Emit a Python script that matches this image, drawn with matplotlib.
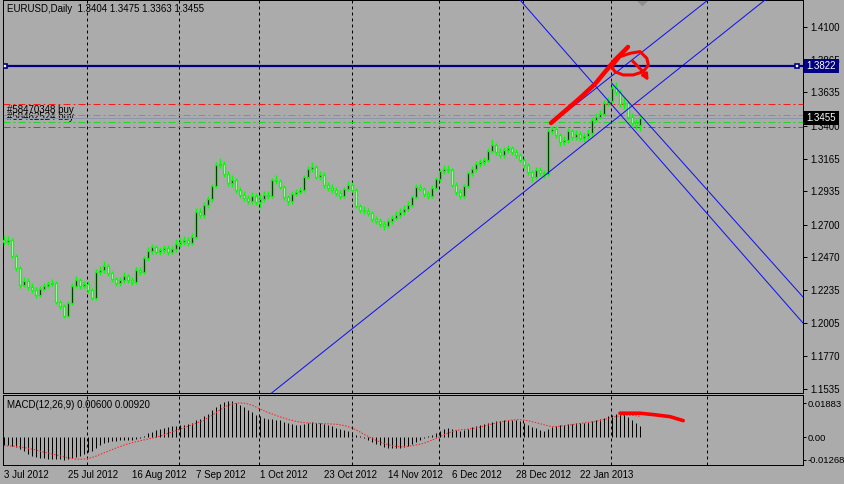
import numpy as np
import matplotlib.pyplot as plt

plt.rcParams['font.family'] = ['Liberation Sans', 'DejaVu Sans']

# EURUSD daily bars (3 Jul 2012 .. mid Feb 2013)
first_open = 1.2592
closes = [1.2578, 1.2592, 1.2479, 1.2394, 1.2274, 1.2302, 1.2260, 1.2239, 1.2203, 1.2246,
          1.2267, 1.2281, 1.2288, 1.2154, 1.2126, 1.2055, 1.2147, 1.2267, 1.2309, 1.2267,
          1.2281, 1.2239, 1.2182, 1.2366, 1.2380, 1.2408, 1.2359, 1.2316, 1.2288, 1.2309,
          1.2338, 1.2309, 1.2295, 1.2380, 1.2366, 1.2465, 1.2514, 1.2543, 1.2507, 1.2521,
          1.2536, 1.2507, 1.2529, 1.2564, 1.2578, 1.2592, 1.2571, 1.2613, 1.2790, 1.2769,
          1.2840, 1.2882, 1.2974, 1.3122, 1.3130, 1.3059, 1.2995, 1.3016, 1.2946, 1.2910,
          1.2889, 1.2868, 1.2903, 1.2861, 1.2882, 1.2910, 1.2903, 1.3016, 1.3009, 1.2967,
          1.2896, 1.2868, 1.2917, 1.2932, 1.2946, 1.3038, 1.3094, 1.3108, 1.3038, 1.3052,
          1.2981, 1.2960, 1.2946, 1.2924, 1.2903, 1.2953, 1.2981, 1.2946, 1.2833, 1.2804,
          1.2797, 1.2783, 1.2741, 1.2727, 1.2705, 1.2691, 1.2727, 1.2748, 1.2769, 1.2790,
          1.2811, 1.2840, 1.2896, 1.2967, 1.2953, 1.2917, 1.2903, 1.2960, 1.3023, 1.3080,
          1.3094, 1.3087, 1.2981, 1.2932, 1.2903, 1.2974, 1.3066, 1.3094, 1.3130, 1.3144,
          1.3158, 1.3221, 1.3264, 1.3214, 1.3193, 1.3228, 1.3243, 1.3214, 1.3193, 1.3158,
          1.3122, 1.3073, 1.3038, 1.3087, 1.3066, 1.3059, 1.3363, 1.3377, 1.3335, 1.3285,
          1.3299, 1.3363, 1.3320, 1.3342, 1.3313, 1.3327, 1.3349, 1.3441, 1.3462, 1.3483,
          1.3561, 1.3575, 1.3667, 1.3639, 1.3554, 1.3561, 1.3462, 1.3420, 1.3404, 1.3455]
highs = [1.2630, 1.2620, 1.2605, 1.2490, 1.2405, 1.2330, 1.2320, 1.2285, 1.2260, 1.2270,
         1.2290, 1.2305, 1.2315, 1.2300, 1.2170, 1.2140, 1.2160, 1.2290, 1.2340, 1.2320,
         1.2300, 1.2300, 1.2255, 1.2390, 1.2405, 1.2440, 1.2425, 1.2375, 1.2330, 1.2330,
         1.2365, 1.2355, 1.2330, 1.2400, 1.2400, 1.2480, 1.2540, 1.2565, 1.2560, 1.2545,
         1.2560, 1.2555, 1.2550, 1.2600, 1.2605, 1.2620, 1.2610, 1.2640, 1.2815, 1.2815,
         1.2860, 1.2900, 1.2990, 1.3140, 1.3170, 1.3150, 1.3080, 1.3050, 1.3030, 1.2965,
         1.2935, 1.2910, 1.2930, 1.2925, 1.2915, 1.2940, 1.2935, 1.3030, 1.3050, 1.3025,
         1.2980, 1.2910, 1.2935, 1.2955, 1.2970, 1.3055, 1.3115, 1.3140, 1.3125, 1.3080,
         1.3070, 1.3000, 1.2985, 1.2965, 1.2945, 1.2970, 1.3010, 1.3000, 1.2960, 1.2850,
         1.2830, 1.2820, 1.2800, 1.2765, 1.2745, 1.2725, 1.2750, 1.2770, 1.2795, 1.2815,
         1.2840, 1.2865, 1.2910, 1.2985, 1.2990, 1.2970, 1.2940, 1.2980, 1.3040, 1.3095,
         1.3125, 1.3120, 1.3100, 1.3000, 1.2950, 1.2990, 1.3080, 1.3115, 1.3150, 1.3165,
         1.3180, 1.3240, 1.3305, 1.3280, 1.3240, 1.3250, 1.3265, 1.3260, 1.3235, 1.3210,
         1.3175, 1.3135, 1.3090, 1.3110, 1.3105, 1.3090, 1.3385, 1.3400, 1.3395, 1.3350,
         1.3325, 1.3385, 1.3380, 1.3370, 1.3360, 1.3350, 1.3375, 1.3460, 1.3490, 1.3510,
         1.3580, 1.3600, 1.3690, 1.3711, 1.3660, 1.3600, 1.3575, 1.3490, 1.3445, 1.3475]
lows = [1.2560, 1.2555, 1.2465, 1.2375, 1.2255, 1.2260, 1.2240, 1.2220, 1.2185, 1.2190,
        1.2230, 1.2250, 1.2265, 1.2140, 1.2105, 1.2042, 1.2045, 1.2135, 1.2250, 1.2245,
        1.2250, 1.2215, 1.2165, 1.2170, 1.2345, 1.2360, 1.2340, 1.2295, 1.2270, 1.2270,
        1.2290, 1.2290, 1.2275, 1.2280, 1.2345, 1.2350, 1.2445, 1.2495, 1.2490, 1.2485,
        1.2500, 1.2485, 1.2490, 1.2505, 1.2545, 1.2560, 1.2550, 1.2555, 1.2600, 1.2750,
        1.2750, 1.2820, 1.2860, 1.2960, 1.3100, 1.3040, 1.2975, 1.2970, 1.2925, 1.2890,
        1.2865, 1.2845, 1.2850, 1.2840, 1.2820, 1.2860, 1.2880, 1.2890, 1.2990, 1.2950,
        1.2875, 1.2840, 1.2850, 1.2900, 1.2915, 1.2930, 1.3025, 1.3075, 1.3020, 1.3015,
        1.2960, 1.2940, 1.2925, 1.2900, 1.2880, 1.2890, 1.2935, 1.2930, 1.2815, 1.2785,
        1.2775, 1.2760, 1.2720, 1.2705, 1.2685, 1.2660, 1.2675, 1.2705, 1.2730, 1.2750,
        1.2770, 1.2795, 1.2825, 1.2880, 1.2935, 1.2895, 1.2880, 1.2890, 1.2945, 1.3005,
        1.3060, 1.3065, 1.2965, 1.2910, 1.2880, 1.2890, 1.2960, 1.3045, 1.3075, 1.3110,
        1.3125, 1.3140, 1.3205, 1.3195, 1.3170, 1.3175, 1.3210, 1.3195, 1.3175, 1.3140,
        1.3100, 1.3050, 1.3000, 1.3020, 1.3045, 1.3030, 1.3045, 1.3340, 1.3315, 1.3260,
        1.3265, 1.3280, 1.3300, 1.3300, 1.3290, 1.3285, 1.3305, 1.3330, 1.3425, 1.3445,
        1.3470, 1.3540, 1.3560, 1.3620, 1.3535, 1.3520, 1.3440, 1.3400, 1.3380, 1.3363]

# MACD(12,26,9): main line drawn as histogram, signal as dotted line
macd_main = [-0.0042, -0.0044, -0.0048, -0.0056, -0.0068, -0.0080, -0.0095, -0.0105, -0.0112, -0.0116,
             -0.0118, -0.0119, -0.0119, -0.0121, -0.0123, -0.0125, -0.0122, -0.0116, -0.0110, -0.0104,
             -0.0095, -0.0085, -0.0075, -0.0060, -0.0046, -0.0034, -0.0026, -0.0022, -0.0020, -0.0017,
             -0.0015, -0.0015, -0.0014, -0.0010, -0.0004, 0.0004, 0.0020, 0.0030, 0.0038, 0.0044,
             0.0052, 0.0058, 0.0060, 0.0062, 0.0064, 0.0068, 0.0074, 0.0080, 0.0092, 0.0100,
             0.0115, 0.0130, 0.0148, 0.0168, 0.0185, 0.0196, 0.0199, 0.0198, 0.0190, 0.0180,
             0.0168, 0.0152, 0.0138, 0.0124, 0.0114, 0.0106, 0.0100, 0.0098, 0.0096, 0.0092,
             0.0085, 0.0078, 0.0072, 0.0068, 0.0068, 0.0072, 0.0078, 0.0082, 0.0080, 0.0076,
             0.0070, 0.0066, 0.0060, 0.0052, 0.0044, 0.0040, 0.0034, 0.0026, 0.0013, 0.0004,
             -0.0004, -0.0015, -0.0026, -0.0036, -0.0046, -0.0054, -0.0060, -0.0062, -0.0062, -0.0060,
             -0.0056, -0.0048, -0.0038, -0.0026, -0.0018, -0.0004, 0.0006, 0.0014, 0.0024, 0.0036,
             0.0046, 0.0048, 0.0042, 0.0038, 0.0036, 0.0040, 0.0046, 0.0054, 0.0062, 0.0066,
             0.0070, 0.0076, 0.0084, 0.0088, 0.0090, 0.0094, 0.0096, 0.0096, 0.0094, 0.0088,
             0.0080, 0.0068, 0.0056, 0.0048, 0.0040, 0.0034, 0.0046, 0.0058, 0.0062, 0.0064,
             0.0068, 0.0072, 0.0074, 0.0076, 0.0078, 0.0080, 0.0082, 0.0088, 0.0094, 0.0100,
             0.0108, 0.0114, 0.0124, 0.0130, 0.0130, 0.0126, 0.0112, 0.0094, 0.0076, 0.0060]
macd_signal = [-0.0048, -0.0049, -0.0050, -0.0052, -0.0055, -0.0058, -0.0062, -0.0067, -0.0072, -0.0078,
               -0.0084, -0.0089, -0.0094, -0.0099, -0.0104, -0.0110, -0.0115, -0.0119, -0.0122, -0.0123,
               -0.0122, -0.0119, -0.0113, -0.0106, -0.0097, -0.0088, -0.0079, -0.0070, -0.0061, -0.0053,
               -0.0045, -0.0038, -0.0032, -0.0026, -0.0021, -0.0016, -0.0011, -0.0006, -0.0001, 0.0005,
               0.0012, 0.0020, 0.0028, 0.0036, 0.0044, 0.0052, 0.0060, 0.0068, 0.0076, 0.0084,
               0.0094, 0.0106, 0.0120, 0.0135, 0.0150, 0.0164, 0.0175, 0.0183, 0.0187, 0.0189,
               0.0188, 0.0183, 0.0176, 0.0167, 0.0156, 0.0146, 0.0136, 0.0128, 0.0120, 0.0112,
               0.0105, 0.0098, 0.0092, 0.0087, 0.0083, 0.0080, 0.0078, 0.0077, 0.0076, 0.0075,
               0.0074, 0.0073, 0.0072, 0.0071, 0.0068, 0.0064, 0.0058, 0.0050, 0.0040, 0.0028,
               0.0016, 0.0004, -0.0008, -0.0018, -0.0027, -0.0035, -0.0042, -0.0048, -0.0052, -0.0054,
               -0.0054, -0.0052, -0.0048, -0.0044, -0.0040, -0.0034, -0.0026, -0.0017, -0.0008, 0.0002,
               0.0012, 0.0022, 0.0030, 0.0036, 0.0040, 0.0042, 0.0044, 0.0047, 0.0050, 0.0055,
               0.0060, 0.0066, 0.0072, 0.0078, 0.0083, 0.0087, 0.0091, 0.0094, 0.0096, 0.0096,
               0.0094, 0.0090, 0.0085, 0.0080, 0.0074, 0.0068, 0.0062, 0.0058, 0.0058, 0.0060,
               0.0063, 0.0066, 0.0069, 0.0072, 0.0075, 0.0078, 0.0081, 0.0084, 0.0088, 0.0092,
               0.0097, 0.0102, 0.0108, 0.0114, 0.0118, 0.0120, 0.0121, 0.0120, 0.0118, 0.0115]

date_labels = ['3 Jul 2012', '25 Jul 2012', '16 Aug 2012', '7 Sep 2012', '1 Oct 2012',
               '23 Oct 2012', '14 Nov 2012', '6 Dec 2012', '28 Dec 2012', '22 Jan 2013']
date_bars = [0, 16, 32, 48, 64, 80, 96, 112, 128, 144]
grid_bars = [20.75, 43.75, 63.75, 87, 108.75, 129.75, 151.75, 175.75]

price_ticks = [1.4100, 1.3865, 1.3635, 1.3400, 1.3165, 1.2935, 1.2700, 1.2470,
               1.2235, 1.2005, 1.1770, 1.1535]
macd_ticks = [0.01883, 0.0, -0.01268]
macd_tick_labels = ['0.01883', '0.00', '-0.01268']

# objects on the chart (bar index, price)
hline_price = 1.3822
bid_price = 1.3455
order_red = [1.3554, 1.3391]
order_green = [1.3476, 1.3426]
order_names = ['#58470348 buy', '#58462524 buy']
trend_up = [(67.25, 1.1518), (190.25, 1.4289)]
channel_up = [(136.9, 1.3417), (176.0, 1.4289)]
trend_down = [(129.0, 1.4289), (199.75, 1.2005)]
channel_down = [(151.9, 1.3702), (199.75, 1.2189)]

# hand drawn marks
stroke_x = [136.75, 140.25, 144.0, 147.75, 150.25, 152.75, 155.25, 156.0]
stroke_y = [1.3419, 1.3504, 1.3596, 1.3695, 1.3780, 1.3865, 1.3935, 1.3957]
loop_x = [152.3, 154.0, 156.5, 159.0, 160.7, 161.1, 159.8, 157.3, 154.8, 152.75, 151.9]
loop_y = [1.3829, 1.3888, 1.3912, 1.3924, 1.3877, 1.3829, 1.3782, 1.3759, 1.3759, 1.3782, 1.3817]
arrow_x = [157.3, 159.8, 161.5]
arrow_y = [1.3853, 1.3782, 1.3700]
macd_mark_x = [154.0, 159.0, 162.5, 166.5, 169.8]
macd_mark_y = [0.0132, 0.0132, 0.0124, 0.0113, 0.0091]

BG = '#ABABAB'
PX = 0.72  # one pixel in points
W, H = 845, 484

c = np.array(closes)
o = np.array([first_open] + closes[:-1])
hi = np.array(highs)
lo = np.array(lows)
bars = np.arange(len(c))


def frame(x0, y0, x1, y1):
    return [x0 / W, 1 - y1 / H, (x1 - x0) / W, (y1 - y0) / H]


fig = plt.figure(figsize=(W / 100, H / 100), dpi=100, facecolor=BG)
ax = fig.add_axes(frame(3, 0, 803, 393), facecolor=BG)
axm = fig.add_axes(frame(3, 395, 803, 465), facecolor=BG, sharex=ax)

for a in (ax, axm):
    for s in a.spines.values():
        s.set_color('black')
        s.set_linewidth(PX)
    for g in grid_bars:
        a.axvline(g, color='black', lw=PX, ls=(0, (3, 3)), zorder=1)

ax.set_xlim(-0.25, 199.75)
ax.set_ylim(1.1510, 1.4289)
axm.set_ylim(-0.0155, 0.0233)

# order lines and bid line
dash_dot = (0, (7, 3, 2, 3))
for p in order_red:
    ax.axhline(p, color='#ff1a1a', lw=PX, ls=dash_dot, zorder=2)
for p in order_green:
    ax.axhline(p, color='#22d622', lw=PX, ls=dash_dot, zorder=2)
ax.axhline(bid_price, color='#8a97a8', lw=PX, zorder=2)
for name, p in zip(order_names, order_green):
    ax.text(0.005, p + 0.0002, name, transform=ax.get_yaxis_transform(),
            fontsize=7, va='bottom', ha='left', zorder=1.5)

# candles
bull = c >= o
ax.vlines(bars, lo, hi, color='#00ff00', lw=1.0, zorder=3)
faces = np.where(bull, 'black', '#c4ffc4')
ax.bar(bars, np.maximum(np.abs(c - o), 0.0004), bottom=np.minimum(o, c), width=0.55,
       color=faces, edgecolor='#00ff00', linewidth=0.9, zorder=4)

# trend lines and channels
def ray(a, pts, both=False):
    (x0, y0), (x1, y1) = pts
    k = (y1 - y0) / (x1 - x0)
    xs = np.array([x0 - 300 if both else x0, x0 + 300])
    a.plot(xs, y0 + k * (xs - x0), color='#1010ee', lw=PX, zorder=5)


ray(ax, trend_up, both=True)
ray(ax, channel_up)
ray(ax, trend_down, both=True)
ray(ax, channel_down)

# horizontal line with its anchor squares
ax.axhline(hline_price, color='#000080', lw=1.6, zorder=5)
ax.plot([0.25, 198.25], [hline_price, hline_price], ls='none', marker='s', ms=3.5,
        mfc='white', mec='#000080', mew=1.2, zorder=6)

# some object sticking out at the top
ax.plot([159.5], [1.4318], marker='D', ms=9, color='#8f8f8f', zorder=2)

# hand drawing in red
ax.plot(stroke_x, stroke_y, color='#ff0000', lw=3.2, solid_capstyle='round', zorder=7)
ax.plot(loop_x, loop_y, color='#ff0000', lw=2.2, solid_capstyle='round', zorder=7)
ax.plot(arrow_x[:2], arrow_y[:2], color='#ff0000', lw=2.2, zorder=7)
ax.annotate('', xy=(arrow_x[2], arrow_y[2]), xytext=(arrow_x[1], arrow_y[1]),
            arrowprops=dict(arrowstyle='-|>', color='#ff0000', lw=2.0, mutation_scale=9),
            zorder=7)

# MACD panel
axm.vlines(bars, 0, macd_main, color='black', lw=PX, zorder=3)
axm.plot(bars, macd_signal, color='#ff2020', lw=PX, ls=(0, (1.5, 1.5)), zorder=4)
axm.plot(macd_mark_x, macd_mark_y, color='#ff0000', lw=2.6, solid_capstyle='round', zorder=5)

# texts
ax.text(0.005, 1 - 9 / 393, 'EURUSD,Daily  1.3404 1.3475 1.3363 1.3455',
        transform=ax.transAxes, fontsize=7, va='center', ha='left')
axm.text(0.005, (465 - 405) / 70, 'MACD(12,26,9) 0.00600 0.00920',
         transform=axm.transAxes, fontsize=7, va='center', ha='left')

# right price scale
ax.yaxis.tick_right()
ax.set_yticks(price_ticks)
ax.set_yticklabels(['%.4f' % t for t in price_ticks])
ax.tick_params(axis='y', direction='out', length=3, width=PX, labelsize=7, pad=2)
axm.yaxis.tick_right()
axm.set_yticks(macd_ticks)
axm.set_yticklabels(macd_tick_labels)
axm.tick_params(axis='y', direction='out', length=2, width=PX, labelsize=6.8, pad=1)

ax.tick_params(axis='x', length=0, labelbottom=False)
axm.set_xticks(date_bars)
axm.set_xticklabels(date_labels)
axm.tick_params(axis='x', length=0, labelsize=7, pad=3.5)
for lbl in axm.get_xticklabels():
    lbl.set_ha('left')

# price boxes on the scale
ax.text(1.0045, hline_price, '%.4f' % hline_price, transform=ax.get_yaxis_transform(),
        fontsize=7, color='white', va='center', ha='left', clip_on=False, zorder=10,
        bbox=dict(boxstyle='square,pad=0.25', fc='#000080', ec='none'))
ax.text(1.0045, bid_price, '%.4f' % bid_price, transform=ax.get_yaxis_transform(),
        fontsize=7, color='white', va='center', ha='left', clip_on=False, zorder=10,
        bbox=dict(boxstyle='square,pad=0.25', fc='black', ec='none'))

fig.savefig('out.png', dpi=100, facecolor=BG)
